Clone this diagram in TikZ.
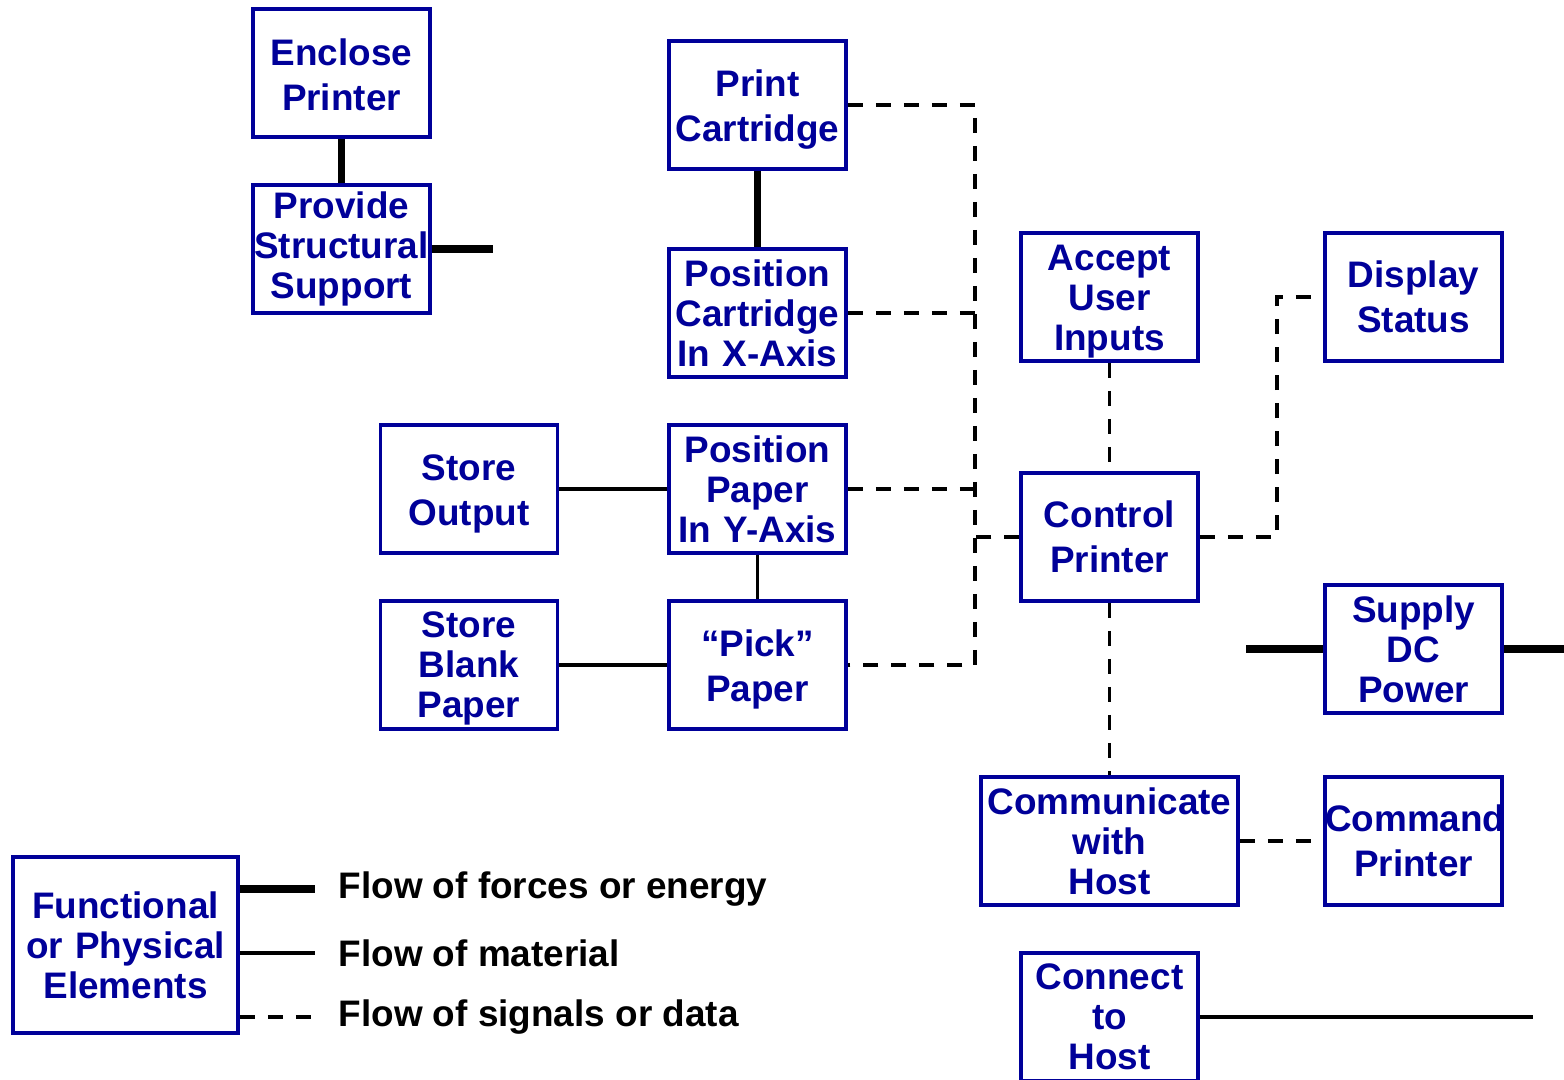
\documentclass[tikz,border=0pt]{standalone}
\usepackage{fontspec}
\setmainfont{Liberation Sans}
\usetikzlibrary{positioning}
\definecolor{ink}{RGB}{0,0,153}

\tikzset{
  func/.style={draw=ink,text=ink,line width=1pt,inner sep=0pt,
    minimum height=1.28cm,text width=1.77cm,align=center,
    font=\fontsize{10.5}{11.4}\selectfont\bfseries},
  func2/.style={func,font=\fontsize{10.5}{12.8}\selectfont\bfseries},
  drop/.style={execute at begin node={\rule{0pt}{#1}}},
  force/.style={line width=2pt},
  matl/.style={line width=1pt},
  sig/.style={line width=1.1pt,dash pattern=on 0.15cm off 0.13cm},
  legtext/.style={anchor=west,inner xsep=0.23cm,font=\fontsize{10.5}{12.8}\selectfont\bfseries}
}

\begin{document}
\begin{tikzpicture}
  \useasboundingbox (0,0) rectangle (15.64,-10.8);

  % mechanical side
  \node[func2,drop=8.6pt] (encl) at (3.415,-0.73) {Enclose\\Printer};
  \node[func] (supp) at (3.415,-2.49) {Provide\\Structural\\Support};
  \node[func2,drop=10.3pt] (cart) at (7.575,-1.05) {Print\\Cartridge};
  \node[func] (posx) at (7.575,-3.13) {Position\\Cartridge\\In X-Axis};
  \node[func2,drop=10.3pt] (sout) at (4.69,-4.89) {Store\\Output};
  \node[func] (posy) at (7.575,-4.89) {Position\\Paper\\In Y-Axis};
  \node[func,drop=9.2pt] (sblank) at (4.69,-6.65) {Store\\Blank\\Paper};
  \node[func2,drop=10.3pt] (pick) at (7.575,-6.65) {“Pick”\\Paper};

  % electronics side
  \node[func,drop=10pt] (accept) at (11.095,-2.97) {Accept\\User\\Inputs};
  \node[func2] (ctrl) at (11.095,-5.37) {Control\\Printer};
  \node[func2] (disp) at (14.135,-2.97) {Display\\Status};
  \node[func] (dc) at (14.135,-6.49) {Supply\\DC\\Power};
  \node[func,text width=2.57cm] (comm) at (11.095,-8.41) {Communicate\\with\\Host};
  \node[func2] (cmd) at (14.135,-8.41) {Command\\Printer};
  \node[func] (conn) at (11.095,-10.17) {Connect\\to\\Host};

  \coordinate (supp end) at (4.93,-2.49);
  \coordinate (dc in) at (12.46,-6.49);
  \coordinate (dc out) at (15.64,-6.49);
  \coordinate (conn end) at (15.33,-10.17);
  \coordinate (bus) at (9.75,0);
  \coordinate (tap) at (12.77,0);

  % forces
  \draw[force] (encl) -- (supp);
  \draw[force] (supp.east) -- (supp end);
  \draw[force] (cart) -- (posx);
  \draw[force] (dc in) -- (dc.west);
  \draw[force] (dc.east) -- (dc out);

  % material
  \draw[matl] (sout) -- (posy);
  \draw[matl] (sblank) -- (pick);
  \draw[matl] (posy) -- (pick);
  \draw[matl] (conn.east) -- (conn end);

  % signals
  \draw[sig] (cart.east) -| (bus |- pick.east) -- (pick.east);
  \foreach \n in {posx,posy,ctrl}
    \draw[sig] (\n) -- (bus |- \n);
  \draw[sig] (accept) -- (ctrl);
  \draw[sig] (ctrl) -- (comm);
  \draw[sig] (ctrl.east) -| (tap |- disp.west) -- (disp.west);
  \draw[sig] (comm) -- (cmd);

  % legend
  \node[func,text width=2.25cm,minimum height=1.76cm] (leg) at (1.255,-9.45)
    {Functional\\or Physical\\Elements};
  \foreach \s/\y/\t/\n in {force/8.89/Flow of forces or energy/fa,
                           matl/9.53/Flow of material/fb,
                           sig/10.17/Flow of signals or data/fc}
  {
    \node[legtext] (\n) at (3.15,-\y) {\t};
    \draw[\s] (leg.east |- \n.west) -- (\n.west);
  }
\end{tikzpicture}
\end{document}
